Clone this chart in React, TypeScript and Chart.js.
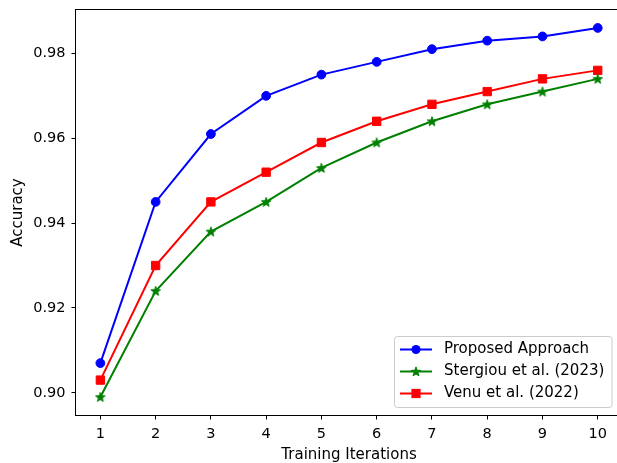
import React, { useEffect, useRef } from "react";
import { Chart, registerables } from "chart.js";

Chart.register(...registerables);

const iterations = [1, 2, 3, 4, 5, 6, 7, 8, 9, 10];
const proposed = [0.907, 0.945, 0.961, 0.970, 0.975, 0.978, 0.981, 0.983, 0.984, 0.986];
const stergiou = [0.899, 0.924, 0.938, 0.945, 0.953, 0.959, 0.964, 0.968, 0.971, 0.974];
const venu = [0.903, 0.930, 0.945, 0.952, 0.959, 0.964, 0.968, 0.971, 0.974, 0.976];
const yTicks = [0.90, 0.92, 0.94, 0.96, 0.98];
const seriesNames = ["Proposed Approach", "Stergiou et al. (2023)", "Venu et al. (2022)"];

const FONT = "DejaVu Sans";
const BLUE = "#0000ff";
const GREEN = "#008000";
const RED = "#ff0000";

function drawStar(ctx: CanvasRenderingContext2D, cx: number, cy: number, r: number, color: string) {
  const inner = r * 0.4;
  ctx.beginPath();
  for (let i = 0; i < 10; i++) {
    const rad = i % 2 === 0 ? r : inner;
    const a = -Math.PI / 2 + (i * Math.PI) / 5;
    const x = cx + rad * Math.cos(a);
    const y = cy + rad * Math.sin(a);
    if (i === 0) ctx.moveTo(x, y);
    else ctx.lineTo(x, y);
  }
  ctx.closePath();
  ctx.fillStyle = color;
  ctx.fill();
  ctx.strokeStyle = color;
  ctx.lineWidth = 1;
  ctx.stroke();
}

function makeStarCanvas(color: string) {
  const c = document.createElement("canvas");
  c.width = 12;
  c.height = 12;
  const ctx = c.getContext("2d")!;
  drawStar(ctx, 6, 6.4, 5, color);
  return c;
}

export default function App() {
  const ref = useRef<HTMLCanvasElement | null>(null);

  useEffect(() => {
    const canvas = ref.current;
    if (!canvas) return;
    const star = makeStarCanvas(GREEN);

    const framePlugin = {
      id: "frameAndLegend",
      afterDatasetsDraw(chart: any) {
        const { ctx, chartArea } = chart;
        const { left, top, right, bottom } = chartArea;
        ctx.save();
        ctx.strokeStyle = "#000";
        ctx.lineWidth = 1;
        ctx.strokeRect(left, top, right - left, bottom - top);

        // legend
        const bx = 394.5, by = 336.5, bw = 217.5, bh = 71;
        ctx.beginPath();
        const r = 3;
        ctx.moveTo(bx + r, by);
        ctx.lineTo(bx + bw - r, by);
        ctx.quadraticCurveTo(bx + bw, by, bx + bw, by + r);
        ctx.lineTo(bx + bw, by + bh - r);
        ctx.quadraticCurveTo(bx + bw, by + bh, bx + bw - r, by + bh);
        ctx.lineTo(bx + r, by + bh);
        ctx.quadraticCurveTo(bx, by + bh, bx, by + bh - r);
        ctx.lineTo(bx, by + r);
        ctx.quadraticCurveTo(bx, by, bx + r, by);
        ctx.closePath();
        ctx.fillStyle = "rgba(255,255,255,0.8)";
        ctx.fill();
        ctx.strokeStyle = "#cccccc";
        ctx.lineWidth = 1;
        ctx.stroke();

        const rows = [349.5, 371.5, 393.5];
        const colors = [BLUE, GREEN, RED];
        rows.forEach((y, i) => {
          ctx.strokeStyle = colors[i];
          ctx.lineWidth = 2;
          ctx.beginPath();
          ctx.moveTo(400, y);
          ctx.lineTo(432, y);
          ctx.stroke();
          ctx.fillStyle = colors[i];
          if (i === 0) {
            ctx.beginPath();
            ctx.arc(416, y, 4.6, 0, Math.PI * 2);
            ctx.fill();
          } else if (i === 1) {
            drawStar(ctx, 416, y + 0.4, 5, GREEN);
          } else {
            ctx.fillRect(411.4, y - 4.6, 9.2, 9.2);
          }
          ctx.fillStyle = "#000";
          ctx.font = `15px "${FONT}"`;
          ctx.textBaseline = "middle";
          ctx.textAlign = "left";
          ctx.fillText(seriesNames[i], 444, y);
        });
        ctx.restore();
      },
    };

    const chart = new Chart(canvas, {
      type: "line",
      data: {
        datasets: [
          {
            label: seriesNames[0],
            data: iterations.map((x, i) => ({ x, y: proposed[i] })),
            borderColor: BLUE,
            backgroundColor: BLUE,
            borderWidth: 2,
            pointStyle: "circle",
            pointRadius: 4.4,
            pointBorderWidth: 1,
          },
          {
            label: seriesNames[1],
            data: iterations.map((x, i) => ({ x, y: stergiou[i] })),
            borderColor: GREEN,
            backgroundColor: GREEN,
            borderWidth: 2,
            pointStyle: star as any,
            pointRadius: 5,
          },
          {
            label: seriesNames[2],
            data: iterations.map((x, i) => ({ x, y: venu[i] })),
            borderColor: RED,
            backgroundColor: RED,
            borderWidth: 2,
            pointStyle: "rect",
            pointRadius: 5.9,
            pointBorderWidth: 1,
          },
        ],
      },
      options: {
        responsive: false,
        animation: false,
        layout: { padding: { left: 0, top: 9.5, right: 17.4, bottom: 0 } },
        plugins: { legend: { display: false }, tooltip: { enabled: false } },
        scales: {
          x: {
            type: "linear",
            min: 0.55,
            max: 10.45,
            afterBuildTicks: (scale: any) => {
              scale.ticks = iterations.map((v) => ({ value: v }));
            },
            afterFit: (scale: any) => {
              scale.height = 47.5;
              scale.paddingLeft = 0;
              scale.paddingRight = 0;
            },
            grid: { drawOnChartArea: false, color: "#000", tickLength: 4, tickWidth: 1 },
            border: { display: false },
            ticks: { color: "#000", font: { family: FONT, size: 14.5 }, padding: 6, maxRotation: 0, autoSkip: false },
            title: {
              display: true,
              text: "Training Iterations",
              color: "#000",
              font: { family: FONT, size: 15 },
              padding: { top: 0, bottom: -1.5 },
            },
          },
          y: {
            type: "linear",
            min: 0.89465,
            max: 0.99035,
            afterBuildTicks: (scale: any) => {
              scale.ticks = yTicks.map((v) => ({ value: v }));
            },
            afterFit: (scale: any) => {
              scale.width = 75.5;
              scale.paddingTop = 0;
              scale.paddingBottom = 0;
            },
            grid: { drawOnChartArea: false, color: "#000", tickLength: 4, tickWidth: 1 },
            border: { display: false },
            ticks: {
              color: "#000",
              font: { family: FONT, size: 14.5 },
              padding: 6,
              callback: (v: any) => Number(v).toFixed(2),
            },
            title: {
              display: true,
              text: "Accuracy",
              color: "#000",
              font: { family: FONT, size: 15 },
              padding: { top: 9, bottom: 0 },
            },
          },
        },
      },
      plugins: [framePlugin],
    });
    return () => chart.destroy();
  }, []);

  return (
    <div style={{ position: "fixed", left: 0, top: 0, width: 617, height: 463, overflow: "hidden", background: "#fff" }}>
      <canvas ref={ref} width={640} height={463} style={{ display: "block" }} />
    </div>
  );
}
